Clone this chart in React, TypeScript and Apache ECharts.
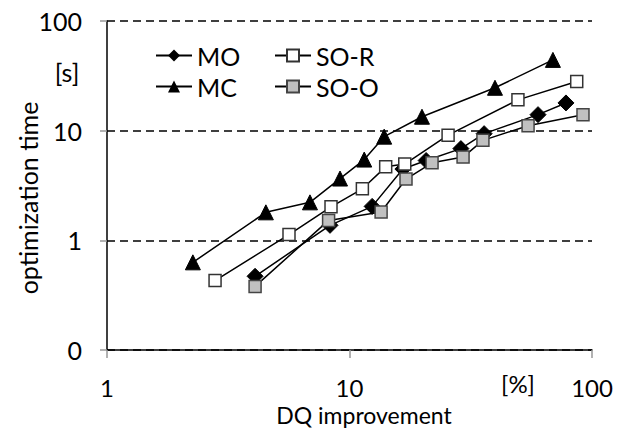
import React, { useEffect, useRef } from 'react';
import * as echarts from 'echarts';

const seriesNames = ['MO', 'MC', 'SO-R', 'SO-O'];

const moX = [4.08, 8.31, 12.4, 16.6, 20.7, 28.8, 35.9, 59.9, 78.1];
const moY = [0.47, 1.37, 2.04, 4.47, 5.34, 6.86, 9.39, 14.0, 17.9];

const mcX = [2.26, 4.52, 6.87, 9.14, 11.5, 13.9, 19.9, 39.8, 69];
const mcY = [0.63, 1.8, 2.22, 3.66, 5.45, 8.82, 13.4, 24.6, 44.2];

const sorX = [2.79, 5.63, 8.39, 11.3, 14.1, 16.9, 25.5, 49.5, 86.5];
const sorY = [0.43, 1.13, 2.02, 2.95, 4.68, 4.96, 9.1, 19.1, 28.1];

const sooX = [4.08, 8.2, 13.5, 17.1, 21.9, 29.4, 35.5, 54.5, 91.8];
const sooY = [0.38, 1.52, 1.81, 3.62, 5.09, 5.74, 8.16, 11.1, 14.0];

const xMin = 1;
const xMax = 100;
const yMin = 0.1;
const yMax = 100;

const FONT = 'Lato';
const FS = 25;
const FSX = 24;

function pairs(xs: number[], ys: number[]) {
  return xs.map((x, i) => [x, ys[i]]);
}

export default function App() {
  const ref = useRef<HTMLDivElement>(null);
  useEffect(() => {
    document.body.style.margin = '0';
    const chart = echarts.init(ref.current!, null, { renderer: 'svg' });
    const lineStyle = { color: '#000', width: 1.5 };
    const legendCommon = {
      orient: 'vertical' as const,
      itemWidth: 36,
      itemHeight: 15,
      itemGap: 6,
      top: 38,
      selectedMode: false,
      textStyle: { fontFamily: FONT, fontSize: FS, color: '#000' },
    };
    chart.setOption({
      animation: false,
      textStyle: { fontFamily: FONT },
      grid: { left: 107, right: 47, top: 21, bottom: 79, containLabel: false },
      legend: [
        { ...legendCommon, left: 150, data: [seriesNames[0], seriesNames[1]] },
        { ...legendCommon, left: 269, data: [seriesNames[2], seriesNames[3]] },
      ],
      xAxis: {
        type: 'log',
        logBase: 10,
        min: xMin,
        max: xMax,
        axisLine: { show: true, lineStyle: { color: '#000', width: 1.5 } },
        axisTick: { show: true, length: 8, lineStyle: { color: '#999', width: 1.5 } },
        axisLabel: { margin: 27, fontSize: FSX, lineHeight: 20, color: '#000', fontFamily: FONT },
        splitLine: { show: false },
        minorTick: { show: false },
      },
      yAxis: {
        type: 'log',
        logBase: 10,
        min: yMin,
        max: yMax,
        axisLine: { show: true, lineStyle: { color: '#000', width: 1.5 } },
        axisTick: { show: true, length: 7, lineStyle: { color: '#999', width: 1.5 } },
        axisLabel: {
          margin: 25,
          fontSize: FS,
          color: '#000',
          fontFamily: FONT,
          formatter: (v: number) => (v < 0.5 ? '0' : String(Math.round(v))),
        },
        splitLine: { show: true, lineStyle: { color: '#000', width: 1.5, type: [8, 5] } },
      },
      graphic: [
        {
          type: 'text',
          x: 28,
          y: 198,
          rotation: Math.PI / 2,
          style: { text: 'optimization time', fontFamily: FONT, fontSize: FS, fill: '#000', align: 'center', verticalAlign: 'middle' },
        },
        {
          type: 'text',
          x: 67,
          y: 72,
          style: { text: '[s]', fontFamily: FONT, fontSize: FS, fill: '#000', align: 'center', verticalAlign: 'middle' },
        },
        {
          type: 'text',
          x: 518,
          y: 383,
          style: { text: '[%]', fontFamily: FONT, fontSize: FSX, lineHeight: 20, fill: '#000', align: 'center', verticalAlign: 'middle' },
        },
        {
          type: 'text',
          x: 364,
          y: 415,
          style: { text: 'DQ improvement', fontFamily: FONT, fontSize: 23, lineHeight: 20, fill: '#000', align: 'center', verticalAlign: 'middle' },
        },
      ],
      series: [
        {
          name: seriesNames[0],
          type: 'line',
          data: pairs(moX, moY),
          symbol: 'diamond',
          symbolSize: 16,
          lineStyle,
          itemStyle: { color: '#000', borderColor: '#000' },
        },
        {
          name: seriesNames[1],
          type: 'line',
          data: pairs(mcX, mcY),
          symbol: 'triangle',
          symbolSize: 15,
          lineStyle,
          itemStyle: { color: '#000', borderColor: '#000' },
        },
        {
          name: seriesNames[2],
          type: 'line',
          data: pairs(sorX, sorY),
          symbol: 'rect',
          symbolSize: 12,
          lineStyle,
          itemStyle: { color: '#fff', borderColor: '#333', borderWidth: 1.5 },
        },
        {
          name: seriesNames[3],
          type: 'line',
          data: pairs(sooX, sooY),
          symbol: 'rect',
          symbolSize: 12,
          lineStyle,
          itemStyle: { color: '#c0c0c0', borderColor: '#444', borderWidth: 1.5 },
        },
      ],
    });
    return () => chart.dispose();
  }, []);
  return <div ref={ref} style={{ width: 639, height: 429 }} />;
}
